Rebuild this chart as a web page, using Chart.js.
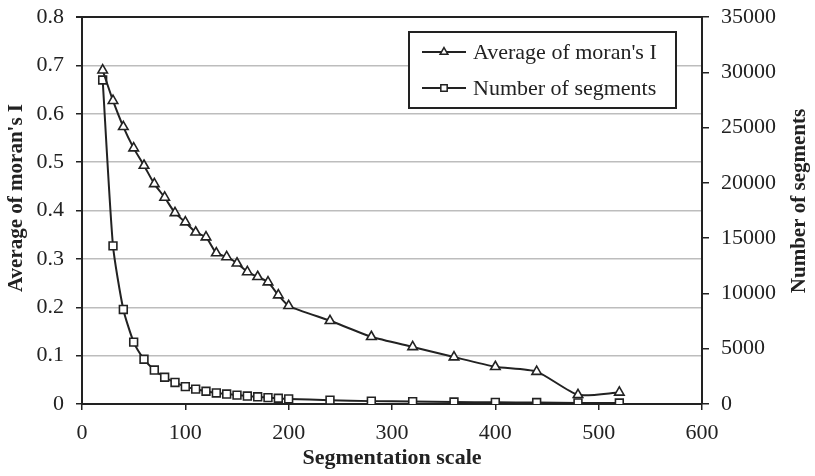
<!DOCTYPE html>
<html>
<head>
<meta charset="utf-8">
<title>Segmentation scale</title>
<script src="https://cdn.jsdelivr.net/npm/chart.js@4.4.1/dist/chart.umd.min.js"></script>
<style>
  html, body { margin: 0; padding: 0; background: #fff; }
  canvas { display: block; }
</style>
</head>
<body>
<canvas id="scaleChart" width="815" height="476"></canvas>
<script>
/* ======================
   DATA
====================== */

const scaleValues = [20, 30, 40, 50, 60, 70, 80, 90, 100, 110, 120, 130, 140, 150,
  160, 170, 180, 190, 200, 240, 280, 320, 360, 400, 440, 480, 520];

const moranValues = [0.69, 0.627, 0.573, 0.529, 0.493, 0.455, 0.427, 0.395, 0.376,
  0.355, 0.345, 0.312, 0.304, 0.291, 0.273, 0.263, 0.252, 0.225, 0.203,
  0.172, 0.139, 0.118, 0.097, 0.077, 0.067, 0.019, 0.024];

const segmentCounts = [29300, 14300, 8550, 5600, 4050, 3070, 2420, 1950, 1570,
  1340, 1150, 1000, 900, 800, 720, 650, 580, 520, 460,
  350, 260, 220, 180, 150, 130, 100, 90];

const xTicks = [0, 100, 200, 300, 400, 500, 600];
const leftTicks = [0, 0.1, 0.2, 0.3, 0.4, 0.5, 0.6, 0.7, 0.8];
const rightTicks = [0, 5000, 10000, 15000, 20000, 25000, 30000, 35000];

const leftTitle = "Average of moran's I";
const rightTitle = "Number of segments";

/* ======================
   STYLE
====================== */

const INK = "#222";
const GRID = "#bdbdbd";
const FONT = "'Liberation Serif', 'Times New Roman', serif";

Chart.defaults.font.family = FONT;
Chart.defaults.font.size = 22;
Chart.defaults.color = INK;

// legend box inside the plot (top right) + both vertical axis titles,
// which read bottom-to-top on each side
const extras = {
  id: "extras",
  afterDraw(chart) {
    const c = chart.ctx;
    const x = 409, y = 32, w = 267, h = 76;
    c.save();
    c.fillStyle = "#fff";
    c.fillRect(x, y, w, h);
    c.strokeStyle = INK;
    c.lineWidth = 2;
    c.strokeRect(x, y, w, h);

    chart.data.datasets.forEach((ds, i) => {
      const cy = y + 20 + i * 36;
      c.beginPath();
      c.moveTo(x + 13, cy);
      c.lineTo(x + 57, cy);
      c.strokeStyle = INK;
      c.lineWidth = 2;
      c.stroke();
      c.fillStyle = "#fff";
      c.strokeStyle = INK;
      c.lineWidth = 1.5;
      Chart.helpers.drawPoint(c, {
        pointStyle: ds.pointStyle,
        radius: 4.5,
        borderWidth: 1.5
      }, x + 35, cy);
      c.fillStyle = INK;
      c.font = "22px " + FONT;
      c.textAlign = "left";
      c.textBaseline = "middle";
      c.fillText(ds.label, x + 64, cy + 1);
    });

    c.font = "bold 21px " + FONT;
    c.fillStyle = INK;
    c.textAlign = "center";
    c.textBaseline = "middle";
    [[17, 198, leftTitle], [800, 201, rightTitle]].forEach(([tx, ty, t]) => {
      c.save();
      c.translate(tx, ty);
      c.rotate(-Math.PI / 2);
      c.fillText(t, 0, 0);
      c.restore();
    });
    c.restore();
  }
};

const lineStyle = {
  pointBackgroundColor: "#fff",
  pointBorderColor: INK,
  pointBorderWidth: 1.6,
  pointRadius: 5.5,
  borderColor: INK,
  borderWidth: 2,
  tension: 0.2,
  fill: false
};

// fixed axis widths, no extra room reserved for the end labels
const fitSide = width => s => {
  s.width = width;
  s.paddingTop = 0;
  s.paddingBottom = 0;
};

/* ======================
   CHART
====================== */

const ctx = document
  .getElementById("scaleChart")
  ?.getContext("2d");

if (ctx) {
  new Chart(ctx, {
    type: "line",
    data: {
      datasets: [{
        label: leftTitle,
        data: scaleValues.map((s, i) => ({ x: s, y: moranValues[i] })),
        yAxisID: "y",
        pointStyle: "triangle",
        ...lineStyle
      }, {
        label: rightTitle,
        data: scaleValues.map((s, i) => ({ x: s, y: segmentCounts[i] })),
        yAxisID: "y2",
        pointStyle: "rect",
        ...lineStyle
      }]
    },
    options: {
      responsive: false,
      animation: false,
      devicePixelRatio: 1,
      layout: { padding: { top: 17, left: 0, right: 0, bottom: 0 } },
      plugins: {
        legend: { display: false },
        tooltip: { enabled: false }
      },
      scales: {
        x: {
          type: "linear",
          min: 0,
          max: 600,
          afterBuildTicks: s => { s.ticks = xTicks.map(v => ({ value: v })); },
          afterFit: s => { s.height = 72; },
          grid: {
            drawOnChartArea: false,
            tickLength: 6,
            tickColor: INK,
            lineWidth: 1.5
          },
          border: { color: INK, width: 2 },
          ticks: { padding: 10, color: INK },
          title: {
            display: true,
            text: "Segmentation scale",
            font: { weight: "bold", size: 22 },
            padding: { top: 0, bottom: 4 },
            color: INK
          }
        },
        y: {
          position: "left",
          min: 0,
          max: 0.8,
          afterBuildTicks: s => { s.ticks = leftTicks.map(v => ({ value: v })); },
          afterFit: fitSide(82),
          grid: {
            color: c => c.tick && c.tick.value >= 0.8 ? INK : GRID,
            lineWidth: c => c.tick && c.tick.value >= 0.8 ? 2 : 1.5,
            tickLength: 6,
            tickColor: INK
          },
          border: { color: INK, width: 2 },
          ticks: { padding: 12, color: INK, callback: v => String(+v.toFixed(1)) }
        },
        y2: {
          position: "right",
          min: 0,
          max: 35000,
          afterBuildTicks: s => { s.ticks = rightTicks.map(v => ({ value: v })); },
          afterFit: fitSide(113),
          grid: {
            drawOnChartArea: false,
            tickLength: 7,
            tickColor: INK,
            lineWidth: 1.5
          },
          border: { color: INK, width: 2 },
          ticks: { padding: 12, color: INK, callback: v => String(v) }
        }
      }
    },
    plugins: [extras]
  });
}
</script>
</body>
</html>
